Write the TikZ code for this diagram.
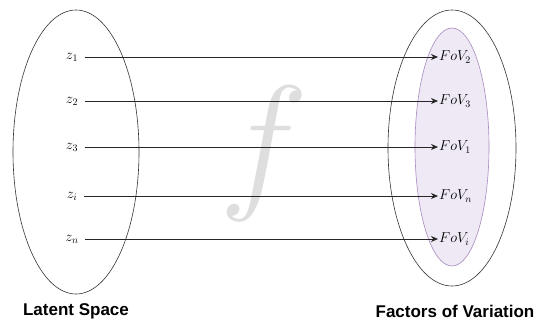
\documentclass[tikz,border=0pt]{standalone}
\usepackage{amsmath,amsfonts,amssymb}
\usepackage{fontspec}
\newfontfamily\labelfont{Liberation Sans}
\usepackage{tikz}
\usetikzlibrary{arrows.meta}
\definecolor{fovline}{HTML}{A989C0}
\definecolor{fovfill}{HTML}{EEE9F4}

\begin{document}
\begin{tikzpicture}[x=1pt,y=-1pt,every node/.style={font=\fontsize{14}{16}\selectfont},
    map/.style={draw=black!85, line width=0.7pt, -{Stealth[length=7pt,width=6pt]}},
    caption/.style={font=\labelfont\bfseries\fontsize{17}{19}\selectfont}]
    \useasboundingbox (0,0) rectangle (540,325);
    % the mapping f, in the back
        \node[text=black!13] (func) at (264,154) {\resizebox{!}{105pt}{$f$}};
    % Latent space
        \draw[black!80, line width=0.6pt] (76,152) ellipse (63 and 142);
        \node (z1) at (72,57) {$z_1$};
        \node (z2) at (72,101) {$z_2$};
        \node (z3) at (72,147) {$z_3$};
        \node (zi) at (72,196) {$z_i$};
        \node (zn) at (72,239) {$z_n$};
    % Factors of variation
        \draw[black!80, line width=0.6pt] (452,148) ellipse (64 and 138);
        \draw[fovline, fill=fovfill, line width=0.6pt] (452,147) ellipse (37 and 119);
        \node[anchor=west, inner sep=1pt] (fov2) at (438,57) {$FoV_2$};
        \node[anchor=west, inner sep=1pt] (fov3) at (438,101) {$FoV_3$};
        \node[anchor=west, inner sep=1pt] (fov1) at (438,147) {$FoV_1$};
        \node[anchor=west, inner sep=1pt] (fovn) at (438,196) {$FoV_n$};
        \node[anchor=west, inner sep=1pt] (fovi) at (438,239) {$FoV_i$};
    % arrows
        \draw[map] (z1.east) ++(3,0) -- (fov2.west);
        \draw[map] (z2.east) ++(3,0) -- (fov3.west);
        \draw[map] (z3.east) ++(3,0) -- (fov1.west);
        \draw[map] (zi.east) ++(3,0) -- (fovn.west);
        \draw[map] (zn.east) ++(3,0) -- (fovi.west);
    % captions
        \node[caption] (latent) at (76,311) {Latent Space};
        \node[caption] (factors) at (455,311) {Factors of Variation};
    \end{tikzpicture}
\end{document}
